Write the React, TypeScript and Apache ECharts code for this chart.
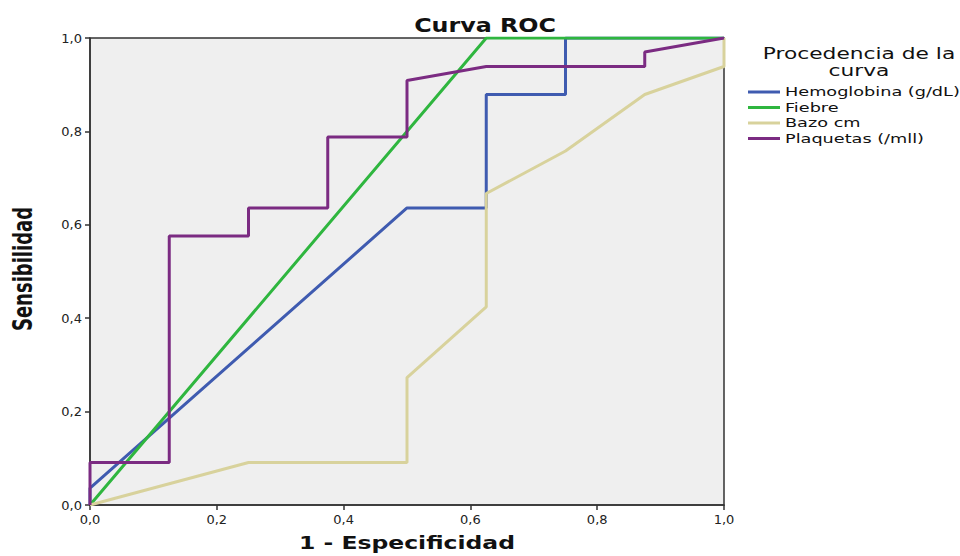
import React, { useEffect, useRef } from "react";
import * as echarts from "echarts";

const seriesNames = ["Hemoglobina (g/dL)", "Fiebre", "Bazo cm", "Plaquetas (/mll)"];
const seriesColors = ["#3f5bb0", "#2fb63f", "#d8d29c", "#7b2b82"];

const hemoX = [0, 0, 0.5, 0.625, 0.625, 0.75, 0.75, 1];
const hemoY = [0, 0.036, 0.636, 0.636, 0.879, 0.879, 1, 1];

const fiebreX = [0, 0.625, 1];
const fiebreY = [0, 1, 1];

const bazoX = [0, 0.25, 0.5, 0.5, 0.625, 0.625, 0.75, 0.875, 1, 1];
const bazoY = [0, 0.091, 0.091, 0.273, 0.424, 0.667, 0.758, 0.879, 0.939, 1];

const plaqX = [0, 0, 0.125, 0.125, 0.25, 0.25, 0.375, 0.375, 0.5, 0.5, 0.625, 0.875, 0.875, 1];
const plaqY = [0, 0.091, 0.091, 0.576, 0.576, 0.636, 0.636, 0.788, 0.788, 0.909, 0.939, 0.939, 0.97, 1];

const seriesX = [hemoX, fiebreX, bazoX, plaqX];
const seriesY = [hemoY, fiebreY, bazoY, plaqY];

const titleText = "Curva ROC";
const xName = "1 - Especificidad";
const yName = "Sensibilidad";
const legendTitle = "Procedencia de la\ncurva";

const fmt = (v: number) => v.toFixed(1).replace(".", ",");

export default function App() {
  const ref = useRef<HTMLDivElement>(null);
  useEffect(() => {
    const chart = echarts.init(ref.current!, null, { renderer: "svg" });
    const axisCommon = {
      type: "value" as const,
      min: 0,
      max: 1,
      interval: 0.2,
      axisLine: { show: true, lineStyle: { color: "#333", width: 1.5 } },
      axisTick: { show: true, length: 5, lineStyle: { color: "#333", width: 1.5 } },
      splitLine: { show: false },
      axisLabel: {
        formatter: fmt,
        color: "#222",
        fontSize: 13,
        fontFamily: "DejaVu Sans",
      },
    };
    const boldCond = "DejaVu Sans Condensed";
    const legendItems: any[] = [];
    seriesNames.forEach((name, i) => {
      const y = 92 + i * 15.5;
      legendItems.push({
        type: "line",
        shape: { x1: 748, y1: y, x2: 780, y2: y },
        style: { stroke: seriesColors[i], lineWidth: 3 },
      });
      legendItems.push({
        type: "text",
        x: 785,
        y: y,
        scaleX: 1.36,
        style: {
          text: name,
          align: "left",
          verticalAlign: "middle",
          fontSize: 13,
          fontFamily: "DejaVu Sans",
          fill: "#111",
        },
      });
    });
    chart.setOption({
      animation: false,
      backgroundColor: "#ffffff",
      grid: {
        left: 90,
        top: 38,
        width: 634,
        height: 467,
        show: true,
        backgroundColor: "#efefef",
        borderColor: "#333",
        borderWidth: 1.5,
      },
      graphic: [
        {
          type: "text",
          x: 485,
          y: 25,
          scaleX: 1.39,
          style: {
            text: titleText,
            align: "center",
            verticalAlign: "middle",
            fontSize: 19,
            fontWeight: "bold",
            fontFamily: boldCond,
            fill: "#111",
          },
        },
        {
          type: "text",
          x: 407,
          y: 543,
          scaleX: 1.45,
          style: {
            text: xName,
            align: "center",
            verticalAlign: "middle",
            fontSize: 18,
            fontWeight: "bold",
            fontFamily: boldCond,
            fill: "#111",
          },
        },
        {
          type: "text",
          x: 22,
          y: 269,
          rotation: Math.PI / 2,
          scaleY: 1.3,
          style: {
            text: yName,
            align: "center",
            verticalAlign: "middle",
            fontSize: 20,
            fontWeight: "bold",
            fontFamily: boldCond,
            fill: "#111",
          },
        },
        {
          type: "text",
          x: 859,
          y: 62,
          scaleX: 1.45,
          style: {
            text: legendTitle,
            align: "center",
            verticalAlign: "middle",
            fontSize: 15,
            lineHeight: 17,
            fontFamily: "DejaVu Sans",
            fill: "#111",
          },
        },
        ...legendItems,
      ],
      xAxis: { ...axisCommon, axisLabel: { ...axisCommon.axisLabel, margin: 8 } },
      yAxis: { ...axisCommon },
      series: seriesNames.map((name, i) => ({
        name,
        type: "line",
        data: seriesX[i].map((x, j) => [x, seriesY[i][j]]),
        showSymbol: false,
        symbol: "none",
        lineStyle: { color: seriesColors[i], width: 3 },
        itemStyle: { color: seriesColors[i] },
        z: i === 3 ? 4 : 3,
      })),
    });
    return () => chart.dispose();
  }, []);
  return <div ref={ref} style={{ width: 960, height: 556, position: "absolute", left: 0, top: 0 }} />;
}
